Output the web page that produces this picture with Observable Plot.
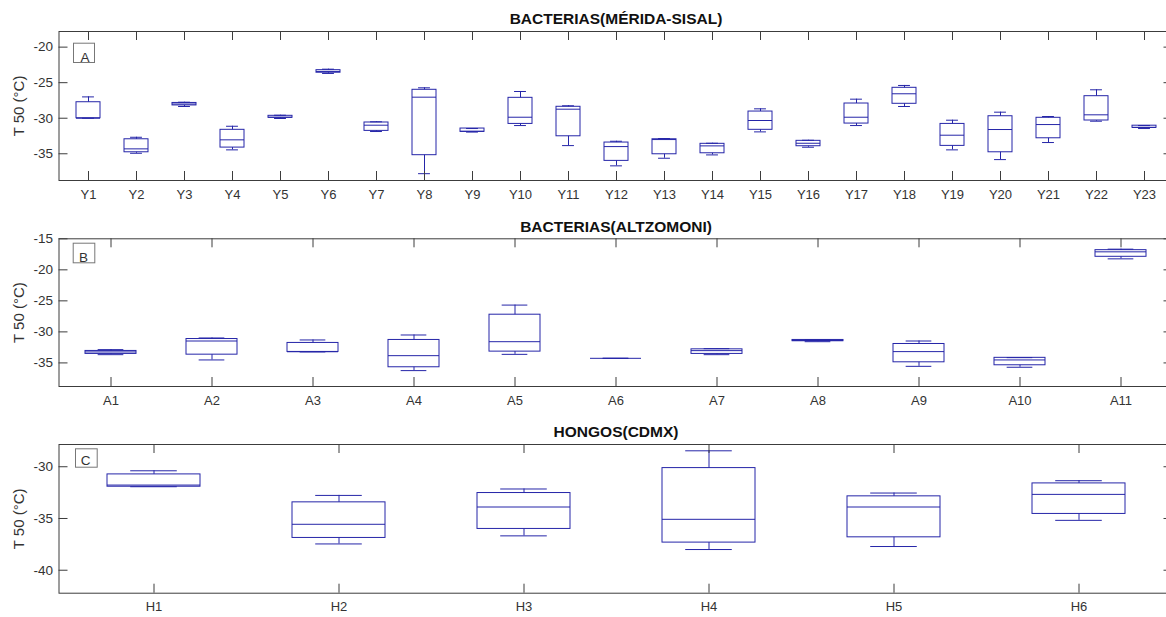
<!DOCTYPE html>
<html><head><meta charset="utf-8">
<script src="https://cdn.jsdelivr.net/npm/d3@7"></script>
<script src="https://cdn.jsdelivr.net/npm/@observablehq/plot@0.6"></script>
<style>
html,body{margin:0;padding:0;background:#fff;overflow:hidden;}
#wrap{position:relative;width:1166px;height:617px;overflow:hidden;}
#wrap svg{position:absolute;left:0;max-width:none !important;}
</style></head><body><div id="wrap"></div>
<script>
// Panel A: BACTERIAS(MÉRIDA-SISAL)
const catsA = ["Y1","Y2","Y3","Y4","Y5","Y6","Y7","Y8","Y9","Y10","Y11","Y12","Y13","Y14","Y15","Y16","Y17","Y18","Y19","Y20","Y21","Y22","Y23"];
const loA  = [-30.0,-34.93,-28.35,-34.45,-30.04,-23.7,-31.87,-37.8,-31.95,-31.03,-33.85,-36.7,-35.63,-35.16,-31.92,-34.08,-31.03,-28.35,-34.45,-35.82,-33.42,-30.42,-31.45];
const q1A  = [-30.0,-34.79,-28.2,-34.13,-29.94,-23.6,-31.78,-35.2,-31.92,-30.8,-32.54,-36.0,-35.07,-34.93,-31.63,-33.94,-30.75,-27.97,-33.89,-34.79,-32.82,-30.32,-31.35];
const medA = [-30.0,-34.31,-28.0,-33.04,-29.86,-23.42,-30.98,-27.04,-31.83,-29.86,-28.73,-33.99,-33.0,-33.89,-30.32,-33.52,-29.86,-26.56,-32.39,-31.59,-30.89,-29.52,-31.3];
const q3A  = [-27.75,-32.96,-27.85,-31.63,-29.66,-23.24,-30.6,-26.0,-31.45,-27.13,-28.39,-33.42,-32.96,-33.6,-29.06,-33.18,-27.93,-25.72,-30.8,-29.72,-29.94,-26.9,-31.05];
const hiA  = [-27.0,-32.68,-27.75,-31.13,-29.58,-23.1,-30.5,-25.72,-31.45,-26.24,-28.25,-33.24,-32.86,-33.52,-28.68,-33.1,-27.32,-25.39,-30.28,-29.15,-29.76,-26.0,-31.03];
const yTicksA = [-35,-30,-25,-20];

// Panel B: BACTERIAS(ALTZOMONI)
const catsB = ["A1","A2","A3","A4","A5","A6","A7","A8","A9","A10","A11"];
const loB  = [-33.67,-34.52,-33.23,-36.24,-33.62,-34.26,-33.67,-31.58,-35.55,-35.7,-18.23];
const q1B  = [-33.55,-33.67,-33.23,-35.7,-33.18,-34.26,-33.55,-31.5,-34.9,-35.38,-17.9];
const medB = [-33.23,-31.47,-33.2,-33.83,-31.58,-34.26,-33.02,-31.4,-33.18,-34.52,-17.1];
const q3B  = [-33.07,-31.15,-31.78,-31.3,-27.23,-34.26,-32.81,-31.3,-31.95,-34.18,-16.83];
const hiB  = [-32.86,-30.98,-31.3,-30.5,-25.68,-34.26,-32.7,-31.3,-31.47,-34.15,-16.67];
const yTicksB = [-35,-30,-25,-20,-15];

// Panel C: HONGOS(CDMX)
const catsC = ["H1","H2","H3","H4","H5","H6"];
const loC  = [-31.93,-37.46,-36.68,-38.0,-37.71,-35.18];
const q1C  = [-31.93,-36.88,-36.01,-37.33,-36.82,-34.56];
const medC = [-31.77,-35.56,-33.89,-35.08,-33.89,-32.67];
const q3C  = [-30.74,-33.44,-32.54,-30.13,-32.86,-31.61];
const hiC  = [-30.39,-32.77,-32.15,-28.46,-32.54,-31.35];
const yTicksC = [-40,-35,-30];

const titles = ["BACTERIAS(MÉRIDA-SISAL)","BACTERIAS(ALTZOMONI)","HONGOS(CDMX)"];
const letters = ["A","B","C"];
const yLabel = "T 50 (°C)";

function panel(o) {
  const W = 1175, mL = 58.5, mR = 2.5;
  const plotW = W - mL - mR, plotH = o.height - o.marginTop - o.marginBottom;
  const step = plotW / o.cats.length;
  const rows = o.cats.map((c, i) => ({c, lo: o.lo[i], q1: o.q1[i], med: o.med[i], q3: o.q3[i], hi: o.hi[i]}));
  const col = "#2525a8", ax = "#3c3c3c";
  const cap = step * 0.125;
  const svg = Plot.plot({
    width: W, height: o.height, marginLeft: mL, marginRight: mR, marginTop: o.marginTop, marginBottom: o.marginBottom,
    style: {fontFamily: "'Liberation Sans', Arial, sans-serif", fontSize: "13px", color: "#333", background: "#fff"},
    x: {type: "band", domain: o.cats, paddingInner: 0.5, paddingOuter: 0.25, label: null},
    y: {domain: o.yDomain, label: null},
    marks: [
      Plot.ruleX(rows, {x: "c", y1: "q3", y2: "hi", stroke: col}),
      Plot.ruleX(rows, {x: "c", y1: "lo", y2: "q1", stroke: col}),
      Plot.tickY(rows, {x: "c", y: "hi", stroke: col, insetLeft: cap, insetRight: cap}),
      Plot.tickY(rows, {x: "c", y: "lo", stroke: col, insetLeft: cap, insetRight: cap}),
      Plot.barY(rows, {x: "c", y1: "q1", y2: "q3", fill: "none", stroke: col}),
      Plot.tickY(rows, {x: "c", y: "med", stroke: col}),
      Plot.ruleX(o.cats, {x: d => d, insetTop: plotH - 9, stroke: ax}),
      Plot.ruleX(o.cats, {x: d => d, insetBottom: plotH - 9, stroke: ax}),
      Plot.ruleY(o.yTicks, {y: d => d, insetRight: plotW - 9, stroke: ax}),
      Plot.ruleY(o.yTicks, {y: d => d, insetLeft: plotW - 9, stroke: ax}),
      Plot.axisX({tickSize: 0, tickPadding: 9, label: null, fontSize: 13}),
      Plot.axisY({ticks: o.yTicks, tickSize: 0, tickPadding: 6, tickFormat: d => String(d), label: null, fontSize: 13.5}),
      Plot.frame({stroke: ax}),
      Plot.frame({stroke: "#777", insetLeft: o.box[0], insetRight: plotW - o.box[0] - o.box[2], insetTop: o.box[1], insetBottom: plotH - o.box[1] - o.box[3]}),
      Plot.text([o.letter], {frameAnchor: "top-left", dx: o.letterPos[0], dy: o.letterPos[1], textAnchor: "middle", lineAnchor: "middle", fontSize: 13.5, fill: "#333"}),
      Plot.text([o.title], {frameAnchor: "top", dy: -12, lineAnchor: "middle", fontWeight: "bold", fontSize: 15.5, fill: "#111"}),
      Plot.text([yLabel], {frameAnchor: "left", dx: -40, rotate: -90, textAnchor: "middle", lineAnchor: "middle", fontSize: 15, fill: "#333"})
    ]
  });
  svg.style.top = o.top + "px";
  document.getElementById("wrap").appendChild(svg);
}

panel({cats: catsA, lo: loA, q1: q1A, med: medA, q3: q3A, hi: hiA, yDomain: [-38.76, -17.8], yTicks: yTicksA,
  title: titles[0], letter: letters[0], top: 0, height: 207, marginTop: 31, marginBottom: 27,
  box: [14.5, 11.7, 21, 19.3], letterPos: [26, 26.5]});
panel({cats: catsB, lo: loB, q1: q1B, med: medB, q3: q3B, hi: hiB, yDomain: [-38.8, -15.0], yTicks: yTicksB,
  title: titles[1], letter: letters[1], top: 207, height: 206, marginTop: 31.3, marginBottom: 27,
  box: [14.2, 4.4, 21.6, 19.6], letterPos: [24.5, 19]});
panel({cats: catsC, lo: loC, q1: q1C, med: medC, q3: q3C, hi: hiC, yDomain: [-42.22, -27.85], yTicks: yTicksC,
  title: titles[2], letter: letters[2], top: 413, height: 204, marginTop: 31, marginBottom: 24.3,
  box: [16.5, 4.3, 21.7, 18.4], letterPos: [26.5, 16.5]});
</script></body></html>
